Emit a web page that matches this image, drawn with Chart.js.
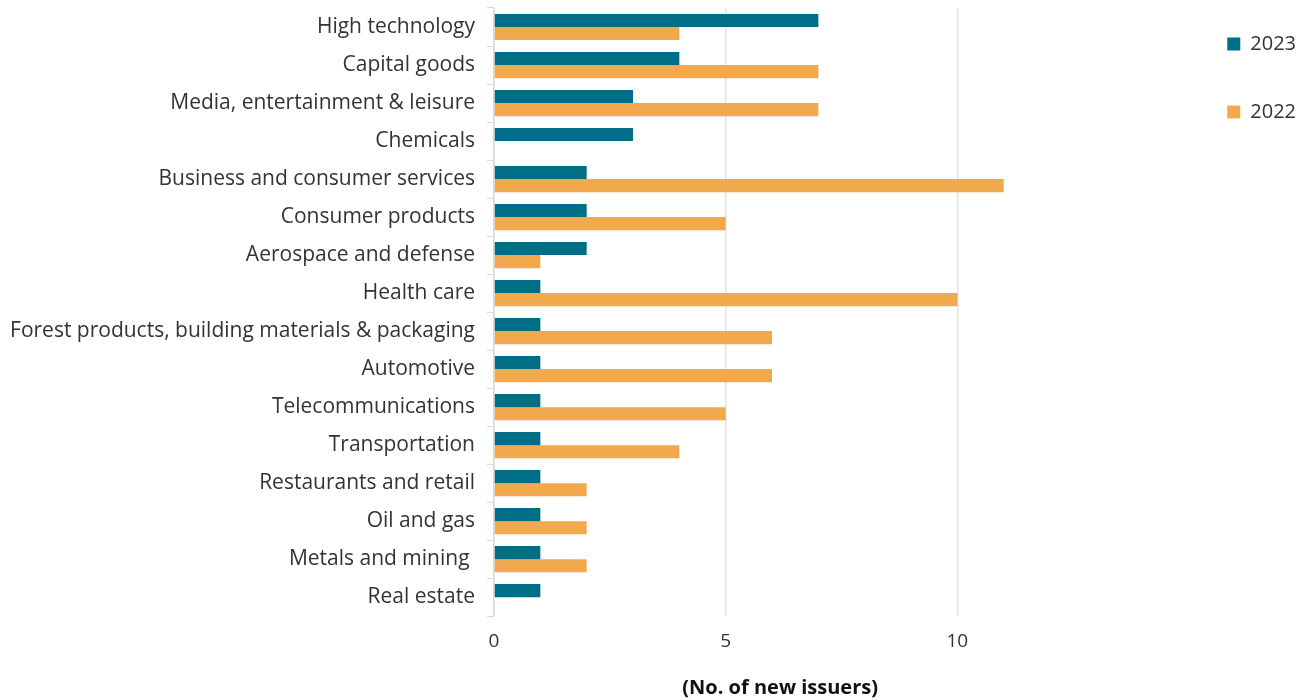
<!DOCTYPE html>
<html>
<head>
<meta charset="utf-8">
<script src="https://cdn.jsdelivr.net/npm/chart.js@4/dist/chart.umd.min.js"></script>
<style>
    html, body { margin: 0; padding: 0; background: #fff; }
    #wrap { width: 1298px; height: 700px; }
</style>
</head>
<body>
<div id="wrap"><canvas id="chart"></canvas></div>
<script>
// Sectors, top to bottom
const sectors = [
    'High technology', 'Capital goods', 'Media, entertainment & leisure', 'Chemicals',
    'Business and consumer services', 'Consumer products', 'Aerospace and defense',
    'Health care', 'Forest products, building materials & packaging', 'Automotive',
    'Telecommunications', 'Transportation', 'Restaurants and retail', 'Oil and gas',
    'Metals and mining ', 'Real estate'
];

// New issuers per sector
const issuers2023 = [7, 4, 3, 3, 2, 2, 2, 1, 1, 1, 1, 1, 1, 1, 1, 1];
const issuers2022 = [4, 7, 7, 0, 11, 5, 1, 10, 6, 6, 5, 4, 2, 2, 2, 0];

const xTicks = [0, 5, 10];

const TEAL = '#006e87';
const ORANGE = '#f2a84c';
const TEXT = '#333333';
const FONT = '"Open Sans", Roboto, sans-serif';

Chart.defaults.font.family = FONT;
Chart.defaults.color = TEXT;

// the legend sits higher up than chart.js would put it
const legendNudge = {
    id: 'legendNudge',
    afterLayout(chart) {
        chart.legend.top -= 22;
        chart.legend.left += 8;
    }
};

const ctx = document.getElementById('chart').getContext('2d');
new Chart(ctx, {
    type: 'bar',
    data: {
        labels: sectors,
        datasets: [
            { label: '2023', data: issuers2023, backgroundColor: TEAL },
            { label: '2022', data: issuers2022, backgroundColor: ORANGE }
        ]
    },
    options: {
        indexAxis: 'y',
        responsive: true,
        maintainAspectRatio: false,
        animation: false,
        datasets: {
            bar: { categoryPercentage: 0.69, barPercentage: 1.0 }
        },
        layout: { padding: { top: 8, bottom: 0, left: 0, right: 0 } },
        scales: {
            x: {
                min: 0,
                max: 12.35,
                afterBuildTicks: scale => {
                    scale.ticks = xTicks.map(v => ({ value: v }));
                },
                grid: { color: '#e3e3e3', drawTicks: false, lineWidth: 1.5 },
                border: { display: false },
                ticks: { font: { size: 19 }, color: TEXT, padding: 14 },
                title: {
                    display: true,
                    text: '(No. of new issuers)',
                    font: { size: 20, weight: 'bold' },
                    color: '#111',
                    padding: { top: 9, bottom: 0 }
                }
            },
            y: {
                grid: { drawOnChartArea: false, drawTicks: true, tickLength: 7, color: '#d9d9d9', offset: true },
                border: { display: true, color: '#d9d9d9', width: 1.5 },
                ticks: { font: { size: 21, lineHeight: 1.0 }, color: TEXT, padding: 12 },
                afterFit: scale => {
                    scale.width = 494;
                    scale.paddingTop = 0;
                    scale.paddingBottom = 0;
                }
            },
            gap: {
                type: 'category',
                position: 'right',
                labels: [''],
                grid: { display: false },
                border: { display: false },
                ticks: { display: false },
                afterFit: scale => { scale.width = 105; }
            }
        },
        plugins: {
            legend: {
                position: 'right',
                align: 'start',
                labels: {
                    boxWidth: 13,
                    boxHeight: 13,
                    padding: 48,
                    font: { size: 20 },
                    color: TEXT
                }
            },
            tooltip: { enabled: false }
        }
    },
    plugins: [legendNudge]
});
</script>
</body>
</html>
